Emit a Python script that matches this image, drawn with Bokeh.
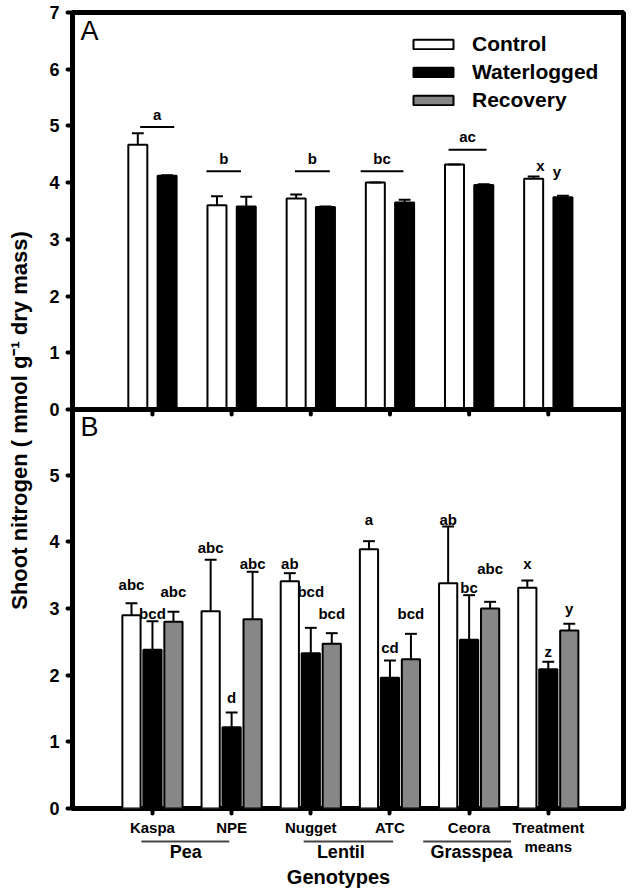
import numpy as np
from bokeh.plotting import figure
from bokeh.layouts import row, column
from bokeh.models import (Range1d, FixedTicker, Label, Legend, LegendItem, Span)
from bokeh.core.properties import value
from bokeh.embed import file_html
from bokeh.resources import INLINE

# ---------------- data ----------------
genotypes = ["Kaspa", "NPE", "Nugget", "ATC", "Ceora", "Treatment"]
groups = ["Pea", "Lentil", "Grasspea"]
group_start = [0.86, 2.91, 4.42]
group_end = [1.97, 4.04, 5.53]
group_center = [1.42, 3.38, 5.03]

# Panel A (Control, Waterlogged)
a_ticks = [0, 1, 2, 3, 4, 5, 6, 7]
a_control = [4.67, 3.60, 3.72, 4.00, 4.32, 4.07]
a_control_err = [0.20, 0.16, 0.07, 0.0, 0.0, 0.04]
a_water = [4.12, 3.58, 3.57, 3.65, 3.96, 3.74]
a_water_err = [0.01, 0.17, 0.01, 0.05, 0.01, 0.03]
a_letters = ["a", "b", "b", "bc", "ac"]
a_letter_x = [1.06, 1.90, 3.02, 3.90, 4.98]
a_line_half = [0.215, 0.218, 0.22, 0.27, 0.24]
a_line_y = [4.98, 4.20, 4.20, 4.20, 4.58]
a_treat_letters = ["x", "y"]
a_treat_x = [5.90, 6.11]
a_treat_y = [4.30, 4.19]

# Panel B (Control, Waterlogged, Recovery)
b_ticks = [0, 1, 2, 3, 4, 5]
b_control = [2.90, 2.96, 3.41, 3.89, 3.38, 3.31]
b_control_err = [0.18, 0.77, 0.12, 0.12, 0.85, 0.11]
b_water = [2.38, 1.22, 2.33, 1.96, 2.53, 2.09]
b_water_err = [0.43, 0.22, 0.38, 0.26, 0.67, 0.11]
b_recov = [2.80, 2.84, 2.47, 2.24, 3.00, 2.67]
b_recov_err = [0.15, 0.71, 0.16, 0.38, 0.10, 0.10]
b_control_letters = ["abc", "abc", "ab", "a", "ab", "x"]
b_control_letter_y = [3.36, 3.92, 3.67, 4.33, 4.34, 3.67]
b_water_letters = ["bcd", "d", "bcd", "cd", "bc", "z"]
b_water_letter_y = [2.92, 1.67, 3.26, 2.41, 3.32, 2.36]
b_recov_letters = ["abc", "abc", "bcd", "bcd", "abc", "y"]
b_recov_letter_y = [3.26, 3.68, 2.92, 2.93, 3.60, 3.00]

# ---------------- style ----------------
FONT = "Liberation Sans"
GRAY = "#878787"
pos = np.arange(1, len(genotypes) + 1, dtype=float)
BW_A, OFF_A = 0.24, 0.185
BW_B, OFF_B = 0.23, 0.265
CAP = 0.075
TXT = dict(text_font=value(FONT), text_font_style="bold", text_font_size="15px",
           text_align="center", text_color="black")

xr = Range1d(-0.01, 6.95)
yA = Range1d(-7.037, 7)          # panel A scale (upper part of the frame)
yB = Range1d(0, 11.94)           # panel B scale (lower part of the frame)

p = figure(width=592, height=838, x_range=xr, y_range=yA,
           output_backend="svg", toolbar_location=None,
           min_border_left=34, min_border_right=7, min_border_top=12, min_border_bottom=30)
p.extra_y_ranges = {"B": yB}
p.outline_line_color = "black"
p.outline_line_width = 5
p.xgrid.grid_line_color = None
p.ygrid.grid_line_color = None


def to_A(b):
    return yA.start + (b - yB.start) * (yA.end - yA.start) / (yB.end - yB.start)


# left axis: panel A ticks + panel B ticks on one axis
ax = p.yaxis[0]
tick_pos = [float(t) for t in a_ticks] + [to_A(b) for b in b_ticks]
tick_lab = [str(t) for t in a_ticks] + [str(b) for b in b_ticks]
ax.ticker = FixedTicker(ticks=tick_pos)
ax.major_label_overrides = dict(zip(tick_pos, tick_lab))
ax.axis_line_color = None
ax.major_tick_out = 5
ax.major_tick_in = 0
ax.major_tick_line_width = 4
ax.major_tick_line_cap = "round"
ax.minor_tick_line_color = None
ax.major_label_text_font = FONT
ax.major_label_text_font_style = "bold"
ax.major_label_text_font_size = "18px"
ax.major_label_text_color = "black"
ax.major_label_standoff = 8

xa = p.xaxis[0]
xa.ticker = FixedTicker(ticks=list(pos))
xa.major_label_overrides = {float(t): g for t, g in zip(pos, genotypes)}
xa.axis_line_color = None
xa.major_tick_out = 5
xa.major_tick_in = 0
xa.major_tick_line_width = 4
xa.major_tick_line_cap = "round"
xa.minor_tick_line_color = None
xa.major_label_text_font = FONT
xa.major_label_text_font_style = "bold"
xa.major_label_text_font_size = "15px"
xa.major_label_text_color = "black"
xa.major_label_standoff = 5

# divider between the panels (panel A zero line)
p.add_layout(Span(location=0, dimension="width", line_color="black", line_width=5))
# panel A category ticks just below its zero line
p.segment(x0=list(pos), y0=0, x1=list(pos), y1=-0.09, line_color="black",
          line_width=4, line_cap="round")


def errbars(xs, vals, errs, **kw):
    tops = [v + e for v, e in zip(vals, errs)]
    p.segment(x0=xs, y0=vals, x1=xs, y1=tops, line_color="black", line_width=2, **kw)
    p.segment(x0=[x - CAP for x in xs], y0=tops, x1=[x + CAP for x in xs], y1=tops,
              line_color="black", line_width=2, **kw)


# ---------------- Panel A ----------------
xa_c = list(pos - OFF_A)
xa_w = list(pos + OFF_A)
p.vbar(x=xa_c, top=a_control, width=BW_A, fill_color="white", line_color="black", line_width=2)
p.vbar(x=xa_w, top=a_water, width=BW_A, fill_color="black", line_color="black", line_width=2)
errbars(xa_c, a_control, a_control_err)
errbars(xa_w, a_water, a_water_err)
p.segment(x0=[x - h for x, h in zip(a_letter_x, a_line_half)], y0=a_line_y,
          x1=[x + h for x, h in zip(a_letter_x, a_line_half)], y1=a_line_y,
          line_color="black", line_width=2)
p.text(x=a_letter_x, y=[y + 0.08 for y in a_line_y], text=a_letters,
       text_baseline="bottom", **TXT)
p.text(x=a_treat_x, y=a_treat_y, text=a_treat_letters, text_baseline="middle", **TXT)
p.add_layout(Label(x=0.09, y=6.68, text="A", text_font=FONT, text_font_size="27px",
                   text_color="black", text_align="left", text_baseline="middle"))

# ---------------- Panel B ----------------
xb_c = list(pos - OFF_B)
xb_w = list(pos)
xb_r = list(pos + OFF_B)
rc = p.vbar(x=xb_c, top=b_control, width=BW_B, fill_color="white", line_color="black",
            line_width=2, y_range_name="B")
rw = p.vbar(x=xb_w, top=b_water, width=BW_B, fill_color="black", line_color="black",
            line_width=2, y_range_name="B")
rr = p.vbar(x=xb_r, top=b_recov, width=BW_B, fill_color=GRAY, line_color="black",
            line_width=2, y_range_name="B")
errbars(xb_c, b_control, b_control_err, y_range_name="B")
errbars(xb_w, b_water, b_water_err, y_range_name="B")
errbars(xb_r, b_recov, b_recov_err, y_range_name="B")
for xs, labs, ys in [(xb_c, b_control_letters, b_control_letter_y),
                     (xb_w, b_water_letters, b_water_letter_y),
                     (xb_r, b_recov_letters, b_recov_letter_y)]:
    p.text(x=xs, y=ys, text=labs, text_baseline="middle", y_range_name="B", **TXT)
p.add_layout(Label(x=0.09, y=5.73, y_range_name="B", text="B", text_font=FONT,
                   text_font_size="27px", text_color="black", text_align="left",
                   text_baseline="middle"))

legend = Legend(items=[LegendItem(label="Control", renderers=[rc]),
                       LegendItem(label="Waterlogged", renderers=[rw]),
                       LegendItem(label="Recovery", renderers=[rr])],
                location=(336, 696), orientation="vertical",
                glyph_width=50, glyph_height=12, label_standoff=14,
                label_height=22, spacing=4, padding=0, margin=0,
                border_line_color=None, background_fill_alpha=0,
                label_text_font=FONT, label_text_font_style="bold",
                label_text_font_size="21px", label_text_color="black")
p.add_layout(legend)

# ---------------- group labels strip ----------------
pC = figure(width=592, height=50, x_range=xr, y_range=Range1d(50, 0),
            output_backend="svg", toolbar_location=None, x_axis_location=None,
            y_axis_location=None, min_border_left=34, min_border_right=7,
            min_border_top=0, min_border_bottom=0)
pC.outline_line_color = None
pC.xgrid.grid_line_color = None
pC.ygrid.grid_line_color = None
pC.segment(x0=group_start, y0=3, x1=group_end, y1=3, line_color="#444444", line_width=2)
pC.text(x=group_center, y=13, text=groups, text_font=value(FONT), text_font_style="bold",
        text_font_size="18px", text_align="center", text_baseline="middle", text_color="black")
pC.text(x=[pos[-1]], y=8, text=["means"], text_font=value(FONT), text_font_style="bold",
        text_font_size="15px", text_align="center", text_baseline="middle", text_color="black")
pC.text(x=[3.35], y=38, text=["Genotypes"], text_font=value(FONT), text_font_style="bold",
        text_font_size="20px", text_align="center", text_baseline="middle", text_color="black")

# ---------------- shared y label ----------------
pL = figure(width=38, height=888, x_range=Range1d(0, 38), y_range=Range1d(888, 0),
            output_backend="svg", toolbar_location=None, x_axis_location=None,
            y_axis_location=None, min_border=0)
pL.outline_line_color = None
pL.xgrid.grid_line_color = None
pL.ygrid.grid_line_color = None
pL.add_layout(Label(x=19, y=420, text="Shoot nitrogen ( mmol g\u207b\u00b9 dry mass)",
                    angle=np.pi / 2, text_font=FONT, text_font_style="bold",
                    text_font_size="22px", text_color="black",
                    text_align="center", text_baseline="middle"))

layout = row(pL, column(p, pC, spacing=0), spacing=0)
open("out.html", "w").write(file_html(layout, INLINE))
